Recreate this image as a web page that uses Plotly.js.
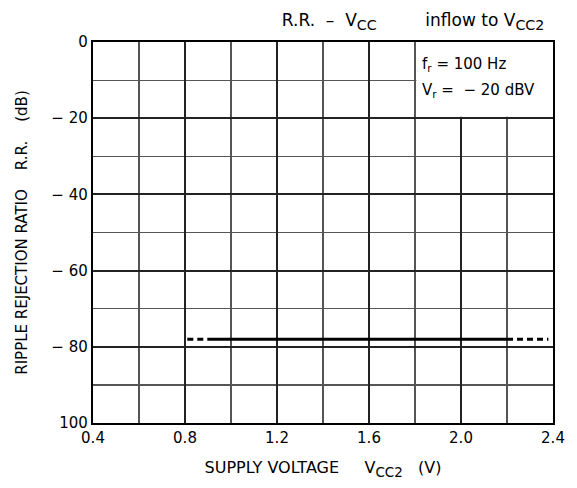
<!DOCTYPE html>
<html><head><meta charset="utf-8">
<script src="https://cdn.plot.ly/plotly-3.0.1.min.js"></script>
<style>html,body{margin:0;padding:0;background:#fff}#chart{width:577px;height:488px}</style>
</head><body><div id="chart"></div>
<script>
// Data
const rrLevel = -78;                 // dB
const solidX = [0.9, 2.2];           // solid range, V
const dashLeftX = [0.81, 0.9];       // dashed extension left
const dashRightX = [2.2, 2.38];      // dashed extension right
const xTickVals = [0.4, 0.8, 1.2, 1.6, 2.0, 2.4];
const xTickText = ['0.4', '0.8', '1.2', '1.6', '2.0', '2.4'];
const yTickVals = [0, -20, -40, -60, -80, -100];
const yTickText = ['0', '\u2212 20', '\u2212 40', '\u2212 60', '\u2212 80', '100'];

const NB = '\u00A0';
const sp = n => NB.repeat(n);
const sub = t => '<sub><span style="font-size:1.2em">' + t + '</span></sub>';

const lineStyle = {color: '#000', width: 3};
const traces = [
  {x: solidX, y: solidX.map(() => rrLevel), mode: 'lines', line: lineStyle, hoverinfo: 'skip'},
  {x: dashLeftX, y: dashLeftX.map(() => rrLevel), mode: 'lines', line: Object.assign({dash: '6px,4px'}, lineStyle), hoverinfo: 'skip'},
  {x: dashRightX, y: dashRightX.map(() => rrLevel), mode: 'lines', line: Object.assign({dash: '6px,4px'}, lineStyle), hoverinfo: 'skip'}
];

const font = 'DejaVu Sans, sans-serif';
const layout = {
  width: 577, height: 488,
  margin: {l: 93, r: 24, t: 42, b: 65},
  paper_bgcolor: '#fff', plot_bgcolor: '#fff',
  showlegend: false,
  font: {family: font, color: '#000', size: 15},
  title: {
    text: 'R.R.' + sp(2) + '\u2013' + sp(2) + 'V' + sub('CC') + sp(9) + 'inflow to V' + sub('CC2'),
    x: 0.716, xref: 'container', xanchor: 'center',
    y: 0.958, yref: 'container', yanchor: 'middle',
    font: {family: font, size: 17, color: '#000'}
  },
  xaxis: {
    range: [0.4, 2.4], tickvals: xTickVals, ticktext: xTickText,
    showgrid: true, gridcolor: '#222', gridwidth: 2,
    minor: {dtick: 0.2, tick0: 0.4, showgrid: true, gridcolor: '#555', gridwidth: 1.2},
    showline: true, linecolor: '#000', linewidth: 2.2, mirror: true,
    ticks: '', zeroline: false, fixedrange: true,
    tickfont: {size: 15},
    title: {text: 'SUPPLY VOLTAGE' + sp(5) + 'V' + sub('CC2') + sp(3) + '(V)', font: {size: 16}, standoff: 16}
  },
  yaxis: {
    range: [-100, 0], tickvals: yTickVals, ticktext: yTickText,
    showgrid: true, gridcolor: '#222', gridwidth: 2,
    minor: {dtick: 10, tick0: 0, showgrid: true, gridcolor: '#555', gridwidth: 1.2},
    showline: true, linecolor: '#000', linewidth: 2.2, mirror: true,
    ticks: '', zeroline: false, fixedrange: true,
    tickfont: {size: 15},
    title: {text: sp(3) + 'RIPPLE REJECTION RATIO' + sp(4) + 'R.R.' + sp(4) + '(dB)', font: {size: 15}, standoff: 20}
  },
  shapes: [
    {type: 'rect', xref: 'x', yref: 'y', x0: 1.806, x1: 2.4, y0: -19.6, y1: 0,
     fillcolor: '#fff', line: {width: 0}, layer: 'between'}
  ],
  annotations: [
    {xref: 'x', yref: 'y', x: 1.82, y: -5.8, xanchor: 'left', yanchor: 'middle', showarrow: false,
     text: 'f<sub>r</sub>' + sp(1) + '=' + sp(1) + '100 Hz', font: {size: 15}},
    {xref: 'x', yref: 'y', x: 1.82, y: -12.6, xanchor: 'left', yanchor: 'middle', showarrow: false,
     text: 'V<sub>r</sub>' + sp(1) + '=' + sp(2) + '\u2212 20 dBV', font: {size: 15}}
  ]
};

Plotly.newPlot('chart', traces, layout, {staticPlot: true, displayModeBar: false});
</script></body></html>
